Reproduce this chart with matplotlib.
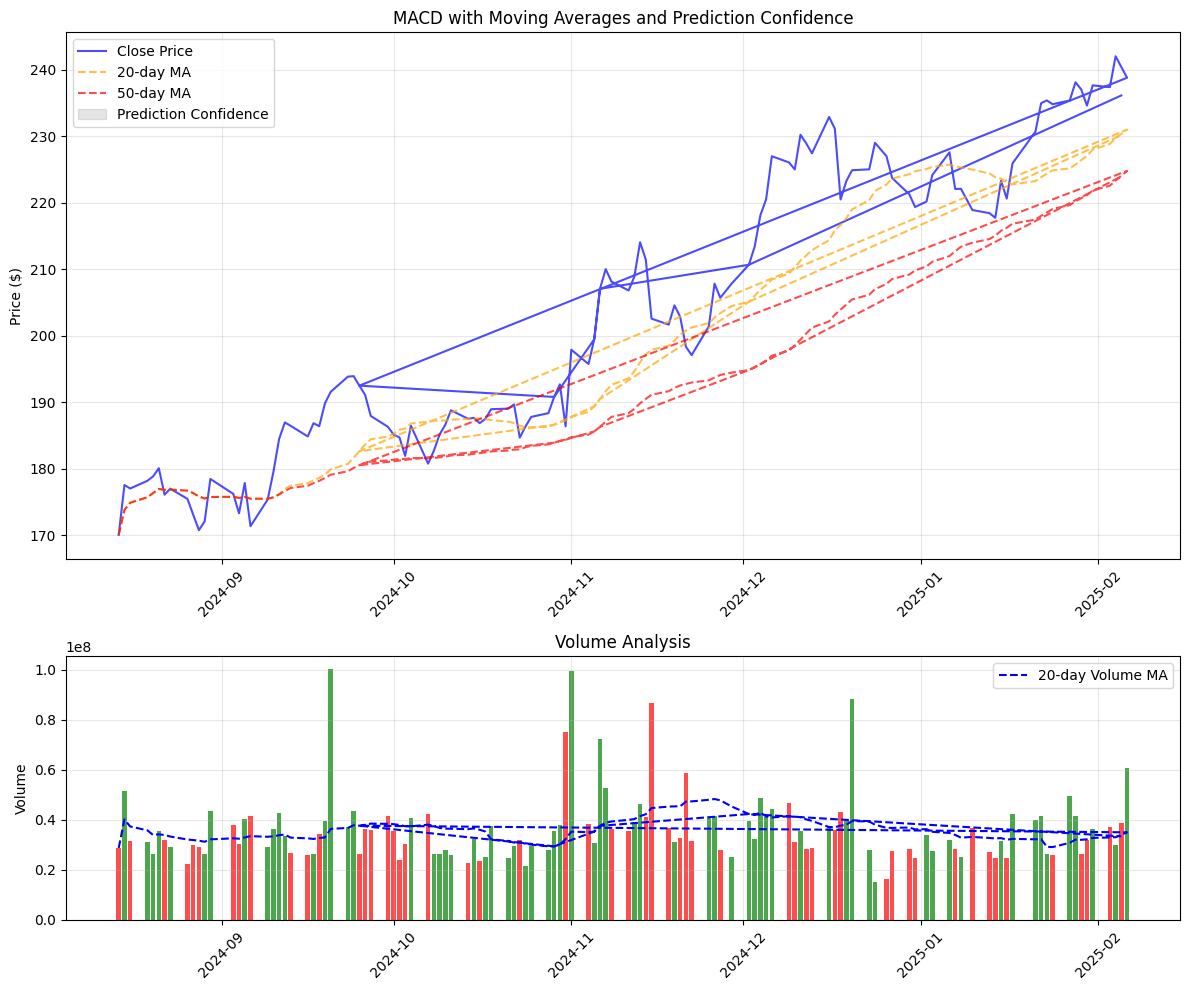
import matplotlib
matplotlib.use("Agg")
import matplotlib.pyplot as plt
from matplotlib.patches import Patch
import numpy as np
import pandas as pd

# trading days shown in the chart (chronological)
dates = pd.bdate_range("2024-08-14", "2025-02-06")
holidays = pd.to_datetime(["2024-09-02", "2024-11-28", "2024-12-25",
                           "2025-01-01", "2025-01-09", "2025-01-20"])
dates = dates[~dates.isin(holidays)]

close = [
    170.10, 177.59, 177.06, 178.22, 178.88, 180.11, 176.13, 177.04, 175.50, 173.12,
    170.80, 172.12, 178.50,
    176.25, 173.33, 177.89, 171.39, 175.40, 179.55, 184.52, 187.00, 186.49, 184.89,
    186.88, 186.43, 189.87, 191.60, 193.88, 193.96, 192.53, 191.16, 187.97, 186.33,
    185.13, 184.76, 181.96, 186.51, 180.80, 182.72, 185.17, 186.65, 188.82, 187.54,
    187.69, 186.89, 187.53, 188.99, 189.07, 189.70, 184.71, 186.38, 187.83, 188.39,
    190.83, 192.73, 186.40,
    197.93, 195.78, 199.50, 207.09, 210.05, 208.18, 206.84, 208.91, 214.10, 211.48,
    202.61, 201.70, 204.61, 202.88, 198.38, 197.12, 201.45, 207.86, 205.74, 207.89,
    210.71, 213.44, 218.16, 220.55, 227.03, 226.09, 225.04, 230.26, 228.97, 227.46,
    232.93, 231.15, 220.52, 223.29, 224.92, 225.06, 229.05, 227.05, 223.75, 221.30,
    219.39,
    220.22, 224.19, 227.61, 222.11, 222.13, 218.94, 218.46, 217.76, 223.35, 220.66,
    225.94, 230.71, 235.01, 235.42, 234.85, 235.42, 238.15, 237.07, 234.64, 237.68,
    237.42, 242.06, 236.17, 238.83,
]

# volume in millions of shares
volume_m = [
    28.7, 51.6, 31.6, 31.2, 26.4, 35.6, 32.0, 29.2, 22.4, 30.0, 29.2, 26.4, 43.6,
    38.0, 30.4, 40.4, 41.6, 29.2, 36.4, 42.8, 33.6, 26.8, 26.0, 26.4, 34.4, 39.6,
    100.4, 37.2, 43.6, 26.4, 36.4, 36.0, 41.6,
    35.6, 24.0, 30.4, 40.8, 42.4, 26.4, 26.4, 28.0, 26.0, 22.8, 32.4, 23.6, 25.2,
    37.6, 24.8, 29.6, 32.0, 21.6, 29.6, 28.0, 35.6, 38.0, 75.2,
    99.6, 38.4, 30.8, 72.4, 52.8, 36.4, 35.6, 39.0, 46.4, 41.0, 86.8, 36.8, 31.2,
    32.8, 58.8, 31.6, 40.8, 41.6, 28.0, 25.2,
    39.6, 32.4, 48.8, 41.2, 44.4, 46.8, 31.2, 35.6, 28.4, 28.8, 37.6, 36.0, 43.2,
    40.0, 88.4, 28.0, 15.2, 16.4, 27.6, 28.4, 24.8,
    34.0, 27.6, 32.0, 28.4, 25.2, 36.8, 27.2, 24.8, 31.6, 24.8, 42.4, 40.0, 41.6,
    26.4, 26.0, 49.6, 41.6, 26.4, 32.0, 36.4,
    37.2, 30.0, 38.8, 60.8,
]

# order the rows are stored in (runs of dates, inclusive)
row_runs = [
    ("2024-08-14", "2024-11-06"),
    ("2024-12-02", "2025-02-04"),
    ("2025-02-06", "2025-02-06"),
    ("2024-09-25", "2024-09-25"),
    ("2024-10-29", "2024-10-29"),
    ("2024-11-05", "2024-12-02"),
    ("2025-02-05", "2025-02-05"),
]

df = pd.DataFrame({"Close": close, "Volume": np.array(volume_m) * 1e6}, index=dates)
df["MA20"] = df["Close"].rolling(20, min_periods=1).mean()
df["MA50"] = df["Close"].rolling(50, min_periods=1).mean()
df["VolMA20"] = df["Volume"].rolling(20, min_periods=1).mean()
up = df["Close"].diff() >= 0
bar_colors = np.where(up, "green", "red")

data = pd.concat([df.loc[a:b] for a, b in row_runs])

fig = plt.figure(figsize=(12, 10))
gs = fig.add_gridspec(2, 1, height_ratios=[2, 1])
ax1 = fig.add_subplot(gs[0])
ax2 = fig.add_subplot(gs[1], sharex=ax1)

ax1.plot(data.index, data["Close"], color="blue", alpha=0.7, label="Close Price")
ax1.plot(data.index, data["MA20"], "--", color="orange", alpha=0.7, label="20-day MA")
ax1.plot(data.index, data["MA50"], "--", color="red", alpha=0.7, label="50-day MA")
handles, labels = ax1.get_legend_handles_labels()
handles.append(Patch(facecolor="gray", edgecolor="gray", alpha=0.2))
labels.append("Prediction Confidence")
ax1.legend(handles, labels, loc="upper left")
ax1.set_title("MACD with Moving Averages and Prediction Confidence")
ax1.set_ylabel("Price ($)")
ax1.grid(True, alpha=0.3)
ax1.tick_params(axis="x", rotation=45)

ax2.bar(df.index, df["Volume"], color=bar_colors, alpha=0.7, width=0.8)
ax2.plot(data.index, data["VolMA20"], "--", color="blue", label="20-day Volume MA")
ax2.set_title("Volume Analysis")
ax2.set_ylabel("Volume")
ax2.legend(loc="upper right")
ax2.grid(True, alpha=0.3)
ax2.tick_params(axis="x", rotation=45)

plt.tight_layout()
plt.savefig("out.png", dpi=100, bbox_inches="tight")
